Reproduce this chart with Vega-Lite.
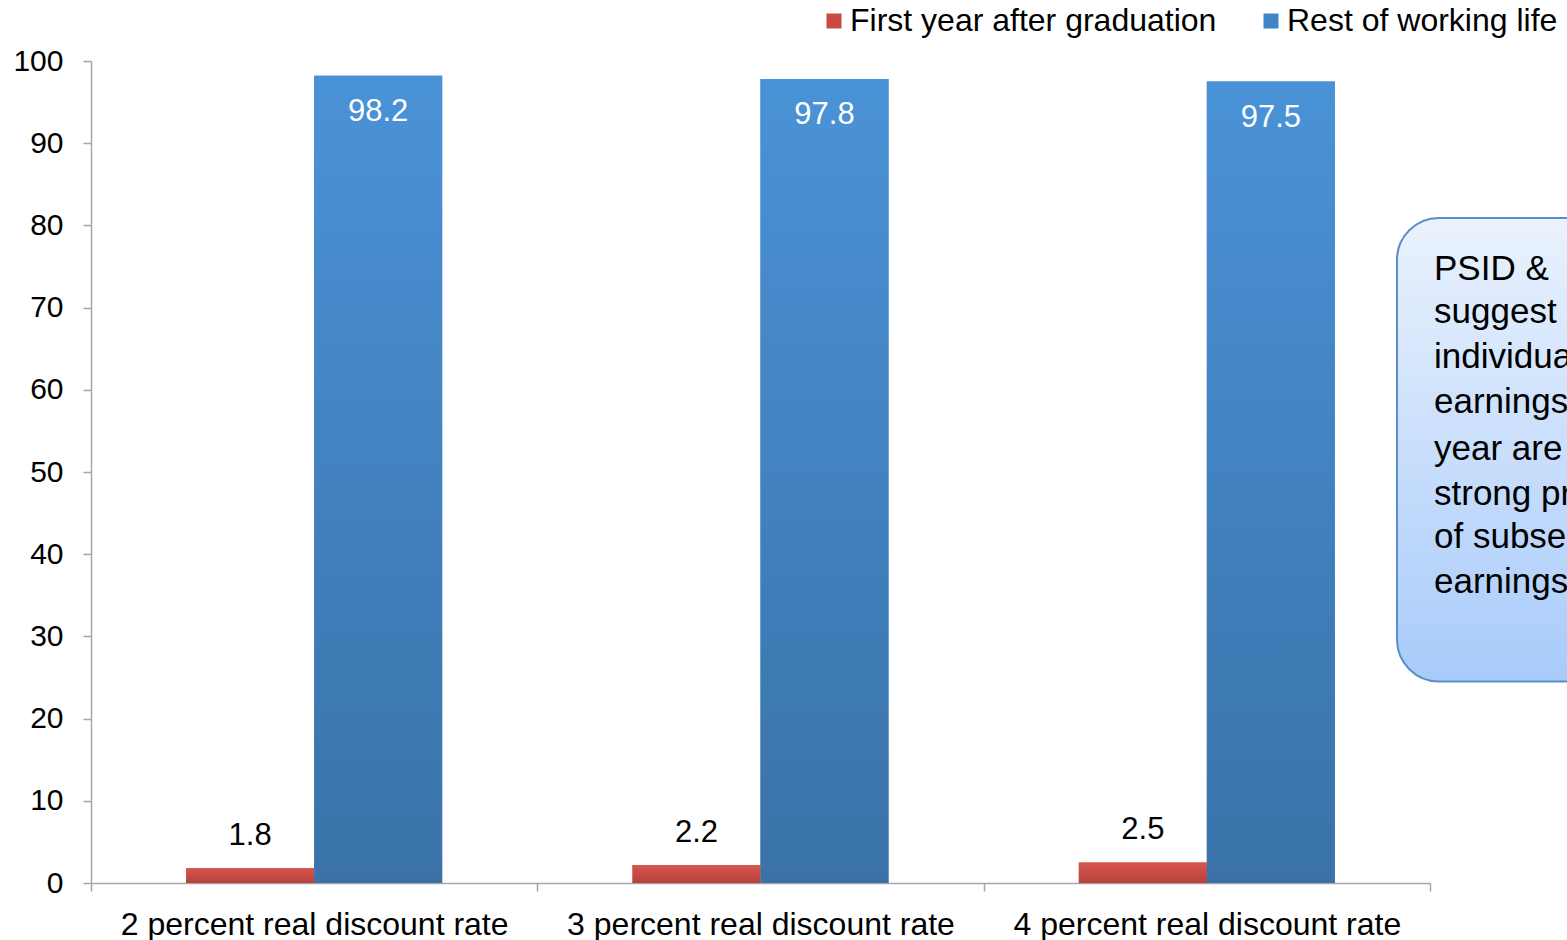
{
  "$schema": "https://vega.github.io/schema/vega-lite/v6.json",
  "width": 1339,
  "height": 822,
  "autosize": {"type": "none"},
  "padding": {"left": 91, "top": 61, "right": 137, "bottom": 57},
  "background": "white",
  "config": {"font": "Liberation Sans", "view": {"stroke": null}},
  "layer": [
    {
      "data": {"values": [
        {"rate": "2 percent real discount rate", "series": "First year after graduation", "value": 1.8},
        {"rate": "2 percent real discount rate", "series": "Rest of working life", "value": 98.2},
        {"rate": "3 percent real discount rate", "series": "First year after graduation", "value": 2.2},
        {"rate": "3 percent real discount rate", "series": "Rest of working life", "value": 97.8},
        {"rate": "4 percent real discount rate", "series": "First year after graduation", "value": 2.5},
        {"rate": "4 percent real discount rate", "series": "Rest of working life", "value": 97.5}
      ]},
      "encoding": {
        "x": {"field": "rate", "type": "nominal", "sort": null,
          "scale": {"paddingInner": 0, "paddingOuter": 0},
          "axis": {"title": null, "labelAngle": 0, "labelFontSize": 32, "labelColor": "#000000", "labelLimit": 800,
            "tickBand": "extent", "tickSize": 8, "tickColor": "#a6a6a6", "domainColor": "#a6a6a6", "domainWidth": 1.5, "tickWidth": 1.5, "labelPadding": 18}},
        "xOffset": {"field": "series", "type": "nominal", "sort": ["First year after graduation", "Rest of working life"],
          "scale": {"paddingInner": 0, "paddingOuter": 0.7435}},
        "y": {"field": "value", "type": "quantitative", "scale": {"domain": [0, 100], "nice": false},
          "axis": {"title": null, "values": [0,10,20,30,40,50,60,70,80,90,100], "labelFontSize": 30, "labelColor": "#000000",
            "tickSize": 8, "tickColor": "#a6a6a6", "domainColor": "#a6a6a6", "domainWidth": 1.5, "tickWidth": 1.5, "labelPadding": 20, "grid": false}}
      },
      "layer": [
        {
          "mark": {"type": "bar"},
          "encoding": {
            "color": {"field": "series", "type": "nominal",
              "scale": {"domain": ["First year after graduation", "Rest of working life"], "range": ["#c94a42", "#4084c8"]},
              "legend": {"title": null, "orient": "none", "legendX": 727, "legendY": -56, "direction": "horizontal",
                "labelFontSize": 32, "labelColor": "#000000", "labelLimit": 1000, "symbolType": "square", "symbolSize": 225,
                "symbolStrokeWidth": 0, "labelOffset": 0, "columnPadding": 38}}
          }
        },
        {
          "mark": {"type": "bar"},
          "encoding": {
            "fill": {
              "condition": {"test": "datum.series === 'First year after graduation'",
                "value": {"gradient": "linear", "x1": 0, "y1": 0, "x2": 0, "y2": 1,
                  "stops": [{"offset": 0, "color": "#d8554d"}, {"offset": 1, "color": "#b5433b"}]}},
              "value": {"gradient": "linear", "x1": 0, "y1": 0, "x2": 0, "y2": 1,
                "stops": [{"offset": 0, "color": "#4a92d7"}, {"offset": 1, "color": "#3a72a8"}]}
            }
          }
        },
        {
          "transform": [{"filter": "datum.series === 'First year after graduation'"}],
          "mark": {"type": "text", "baseline": "alphabetic", "dy": -23, "fontSize": 31, "color": "#000000"},
          "encoding": {"text": {"field": "value", "type": "quantitative", "format": ".1f"}}
        },
        {
          "transform": [{"filter": "datum.series === 'Rest of working life'"}],
          "mark": {"type": "text", "baseline": "alphabetic", "dy": 45, "fontSize": 31, "color": "#ffffff"},
          "encoding": {"text": {"field": "value", "type": "quantitative", "format": ".1f"}}
        }
      ]
    },
    {
      "data": {"values": [{"x1": 2.926, "x2": 3.5, "y1": 24.5, "y2": 80.9}]},
      "mark": {"type": "rect", "cornerRadius": 42, "stroke": "#5b8ec6", "strokeWidth": 2,
        "fill": {"gradient": "linear", "x1": 0, "y1": 0, "x2": 0, "y2": 1,
          "stops": [{"offset": 0, "color": "#eaf2fd"}, {"offset": 1, "color": "#a8cbfa"}]}},
      "encoding": {
        "x": {"field": "x1", "type": "quantitative", "scale": {"domain": [0, 3], "nice": false, "zero": false}, "axis": null},
        "x2": {"field": "x2"},
        "y": {"field": "y1", "type": "quantitative", "scale": {"domain": [0, 100], "nice": false},
          "axis": {"title": null, "values": [0,10,20,30,40,50,60,70,80,90,100], "labelFontSize": 30, "labelColor": "#000000",
            "tickSize": 8, "tickColor": "#a6a6a6", "domainColor": "#a6a6a6", "domainWidth": 1.5, "tickWidth": 1.5, "labelPadding": 20, "grid": false}},
        "y2": {"field": "y2"}
      }
    },
    {
      "data": {"values": [
        {"line": "PSID &", "x": 3.009, "y": 74.66},
        {"line": "suggest", "x": 3.009, "y": 69.43},
        {"line": "individual", "x": 3.009, "y": 63.95},
        {"line": "earnings", "x": 3.009, "y": 58.47},
        {"line": "year are", "x": 3.009, "y": 52.74},
        {"line": "strong predictors", "x": 3.009, "y": 47.38},
        {"line": "of subsequent", "x": 3.009, "y": 42.14},
        {"line": "earnings", "x": 3.009, "y": 36.66}
      ]},
      "mark": {"type": "text", "align": "left", "baseline": "middle", "fontSize": 35, "color": "#000000"},
      "encoding": {
        "x": {"field": "x", "type": "quantitative", "scale": {"domain": [0, 3], "nice": false, "zero": false}, "axis": null},
        "y": {"field": "y", "type": "quantitative", "scale": {"domain": [0, 100], "nice": false},
          "axis": {"title": null, "values": [0,10,20,30,40,50,60,70,80,90,100], "labelFontSize": 30, "labelColor": "#000000",
            "tickSize": 8, "tickColor": "#a6a6a6", "domainColor": "#a6a6a6", "domainWidth": 1.5, "tickWidth": 1.5, "labelPadding": 20, "grid": false}},
        "text": {"field": "line"}
      }
    }
  ],
  "resolve": {"scale": {"x": "independent"}, "axis": {"x": "independent"}}
}
